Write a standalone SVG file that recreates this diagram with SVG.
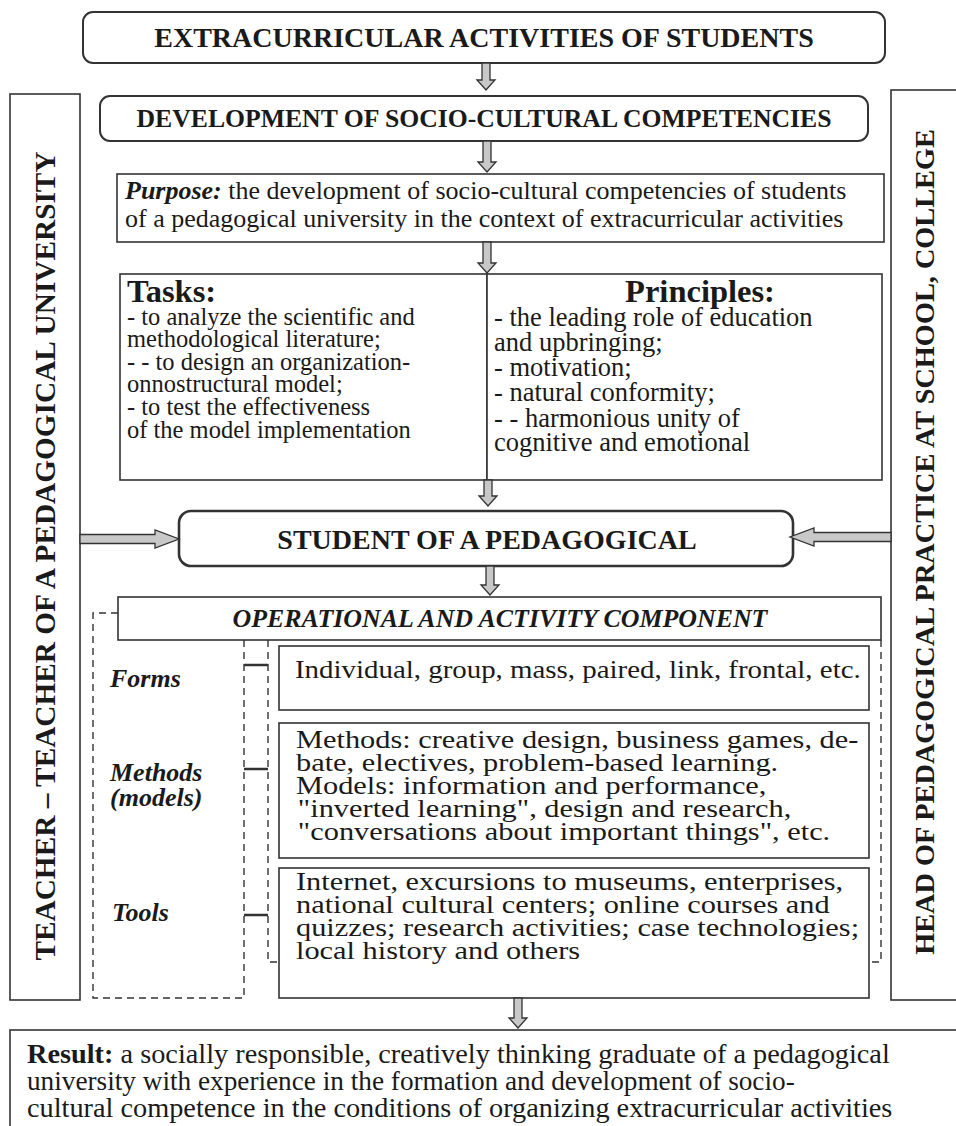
<svg xmlns="http://www.w3.org/2000/svg" width="956" height="1126" viewBox="0 0 956 1126" font-family="Liberation Serif, serif">
<style>
.box{fill:#fff;stroke:#333;stroke-width:1.6}
.rbox{fill:#fff;stroke:#333;stroke-width:2}
.dash{fill:none;stroke:#333;stroke-width:1.4;stroke-dasharray:7,5}
.tick{fill:none;stroke:#333;stroke-width:2.4}
.arr{fill:#c8c8c8;stroke:#333;stroke-width:1.3;stroke-linejoin:miter}
text{font-family:"Liberation Serif",serif;fill:#1a1a1a}
.b{font-weight:bold}
.bi{font-weight:bold;font-style:italic}
.mid{text-anchor:middle}
</style>
<g id="teacher">
<rect class="box" x="10" y="94" width="70" height="906"/>
<text class="b mid" font-size="29.3" transform="translate(55,556) rotate(-90)">TEACHER – TEACHER OF A PEDAGOGICAL UNIVERSITY</text>
</g>
<g id="head">
<rect class="box" x="891" y="90" width="70" height="910"/>
<text class="b mid" font-size="28.3" transform="translate(934,542) rotate(-90)">HEAD OF PEDAGOGICAL PRACTICE AT SCHOOL, COLLEGE</text>
</g>
<g id="extracurricular">
<rect class="rbox" x="83" y="12" width="802" height="51" rx="10"/>
<text class="b mid" font-size="28" x="484" y="47">EXTRACURRICULAR ACTIVITIES OF STUDENTS</text>
</g>
<g id="development">
<rect class="rbox" x="100" y="96" width="768" height="45" rx="10"/>
<text class="b mid" font-size="25.7" x="484" y="127">DEVELOPMENT OF SOCIO-CULTURAL COMPETENCIES</text>
</g>
<g id="purpose">
<rect class="box" x="117" y="174" width="767" height="68"/>
<text font-size="26" x="125" y="199"><tspan class="bi">Purpose:</tspan> the development of socio-cultural competencies of students</text>
<text font-size="26" x="125" y="227">of a pedagogical university in the context of extracurricular activities</text>
</g>
<g id="tasks">
<rect class="box" x="120" y="274" width="367" height="206"/>
<text class="b" font-size="32.5" x="127" y="302">Tasks:</text>
<g font-size="24.5">
<text x="127" y="325">- to analyze the scientific and</text>
<text x="127" y="347">methodological literature;</text>
<text x="127" y="370">- - to design an organization-</text>
<text x="127" y="392">onnostructural model;</text>
<text x="127" y="415">- to test the effectiveness</text>
<text x="127" y="438">of the model implementation</text>
</g>
</g>
<g id="principles">
<rect class="box" x="487" y="274" width="395" height="206"/>
<text class="b mid" font-size="32.5" x="700" y="302">Principles:</text>
<g font-size="26.5">
<text x="494" y="326">- the leading role of education</text>
<text x="494" y="351">and upbringing;</text>
<text x="494" y="376">- motivation;</text>
<text x="494" y="401">- natural conformity;</text>
<text x="494" y="427">- - harmonious unity of</text>
<text x="494" y="451">cognitive and emotional</text>
</g>
</g>
<g id="student">
<rect class="rbox" x="179" y="511" width="614" height="55" rx="12" style="stroke-width:2.6"/>
<text class="b mid" font-size="28" x="487" y="549">STUDENT OF A PEDAGOGICAL</text>
</g>
<g id="component-frame">
<path class="dash" d="M118,613 H93 V998 H244 V640"/>
<path class="dash" d="M268,640 V962 H279"/>
<path class="dash" d="M881,640 V962 H869"/>
</g>
<g id="operational">
<rect class="box" x="118" y="597" width="763" height="43"/>
<text class="bi mid" font-size="25.9" x="500" y="627">OPERATIONAL AND ACTIVITY COMPONENT</text>
</g>
<g id="forms-label">
<text class="bi" font-size="26" x="110" y="687">Forms</text>
</g>
<g id="methods-label">
<text class="bi" font-size="26" x="110" y="781">Methods</text>
<text class="bi" font-size="26" x="110" y="806">(models)</text>
</g>
<g id="tools-label">
<text class="bi" font-size="26" x="112" y="921">Tools</text>
</g>
<g id="forms">
<rect class="box" x="279" y="646" width="590" height="64"/>
<text font-size="24.5" transform="translate(295,678) scale(1.18,1)">Individual, group, mass, paired, link, frontal, etc.</text>
</g>
<g id="methods">
<rect class="box" x="279" y="723" width="590" height="135"/>
<g font-size="24.5" transform="translate(296,0) scale(1.24,1)">
<text x="0" y="748">Methods: creative design, business games, de-</text>
<text x="0" y="771">bate, electives, problem-based learning.</text>
<text x="0" y="794">Models: information and performance,</text>
<text x="1.5" y="817">"inverted learning", design and research,</text>
<text x="1.5" y="840">"conversations about important things", etc.</text>
</g>
</g>
<g id="tools">
<rect class="box" x="279" y="868" width="590" height="130"/>
<g font-size="24.5" transform="translate(296,0) scale(1.24,1)">
<text x="0" y="890">Internet, excursions to museums, enterprises,</text>
<text x="0" y="913">national cultural centers; online courses and</text>
<text x="0" y="936">quizzes; research activities; case technologies;</text>
<text x="0" y="959">local history and others</text>
</g>
</g>
<g id="result">
<rect class="box" x="10" y="1030" width="960" height="110"/>
<g font-size="28.3">
<text x="27" y="1063"><tspan class="b">Result:</tspan> a socially responsible, creatively thinking graduate of a pedagogical</text>
<text transform="translate(27,1090) scale(0.963,1)">university with experience in the formation and development of socio-</text>
<text x="27" y="1117">cultural competence in the conditions of organizing extracurricular activities</text>
</g>
</g>
<g id="connectors">
<path class="arr" d="M482,63 V80 H477 L486,90 L495,80 H490 V63 Z"/>
<path class="arr" d="M483,141 V162 H478 L487,172 L496,162 H491 V141 Z"/>
<path class="arr" d="M483,242 V263 H478 L487,273 L496,263 H491 V242 Z"/>
<path class="arr" d="M484,480 V496 H479 L488,506 L497,496 H492 V480 Z"/>
<path class="arr" d="M486,566 V585 H481 L490,595 L499,585 H494 V566 Z"/>
<path class="arr" d="M514,998 V1018 H509 L518,1028 L527,1018 H522 V998 Z"/>
<path class="arr" d="M80,534.5 H155 V530 L179,539 L155,548 V543.5 H80 Z"/>
<path class="arr" d="M891,532.5 H814 V528 L790,537 L814,546 V541.5 H891 Z"/>
<path class="tick" d="M244,665 H268 M244,769 H268 M244,915 H268"/>
</g>
</svg>
